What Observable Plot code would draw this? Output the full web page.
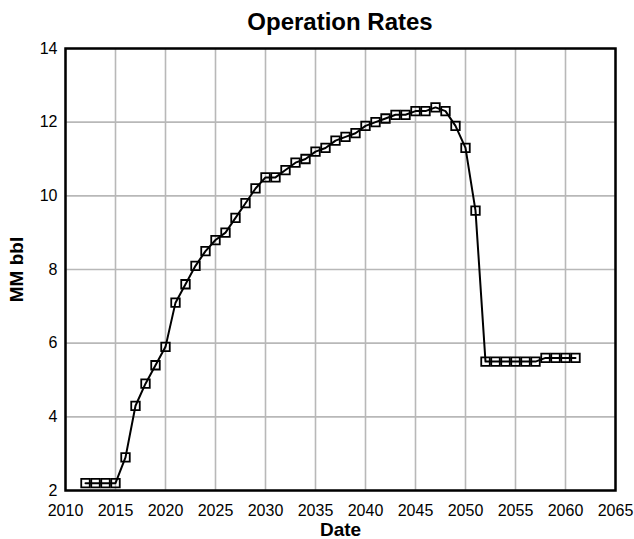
<!DOCTYPE html>
<html>
<head>
<meta charset="utf-8">
<script src="https://cdn.jsdelivr.net/npm/d3@7"></script>
<script src="https://cdn.jsdelivr.net/npm/@observablehq/plot@0.6"></script>
<style>
  body { margin: 0; background: #fff; }
  #wrap { position: relative; width: 634px; height: 539px; }
  #title { position: absolute; left: 65px; width: 550px; top: 8px; text-align: center;
           font: bold 24px "Liberation Sans", Arial, sans-serif; color: #000; }
  g[aria-label="x-axis label"] text, g[aria-label="y-axis label"] text {
    font-weight: bold; font-size: 19px; }
</style>
</head>
<body>
<div id="wrap">
  <div id="title">Operation Rates</div>
</div>
<script>
const years = [2012,2013,2014,2015,2016,2017,2018,2019,2020,2021,2022,2023,2024,2025,2026,2027,2028,2029,2030,2031,2032,2033,2034,2035,2036,2037,2038,2039,2040,2041,2042,2043,2044,2045,2046,2047,2048,2049,2050,2051,2052,2053,2054,2055,2056,2057,2058,2059,2060,2061];
const rates = [2.2,2.2,2.2,2.2,2.9,4.3,4.9,5.4,5.9,7.1,7.6,8.1,8.5,8.8,9.0,9.4,9.8,10.2,10.5,10.5,10.7,10.9,11.0,11.2,11.3,11.5,11.6,11.7,11.9,12.0,12.1,12.2,12.2,12.3,12.3,12.4,12.3,11.9,11.3,9.6,5.5,5.5,5.5,5.5,5.5,5.5,5.6,5.6,5.6,5.6];
const xTicks = [2010,2015,2020,2025,2030,2035,2040,2045,2050,2055,2060,2065];
const yTicks = [2,4,6,8,10,12,14];

const data = years.map((y, i) => ({year: y, value: rates[i]}));

const chart = Plot.plot({
  width: 634,
  height: 539,
  marginTop: 48,
  marginBottom: 49,
  marginLeft: 65,
  marginRight: 19,
  style: {fontFamily: "'Liberation Sans', Arial, sans-serif", fontSize: "16px", color: "#000", background: "#fff"},
  x: {domain: [2010, 2065]},
  y: {domain: [2, 14]},
  marks: [
    Plot.gridX(xTicks, {stroke: "#b8b8b8", strokeWidth: 1.6, strokeOpacity: 1}),
    Plot.gridY(yTicks, {stroke: "#b8b8b8", strokeWidth: 1.6, strokeOpacity: 1}),
    Plot.axisX(xTicks, {tickSize: 0, tickPadding: 14, fontSize: 16, tickFormat: d => String(d), label: "Date", labelAnchor: "center", labelArrow: "none", labelOffset: 45}),
    Plot.axisY(yTicks, {tickSize: 0, tickPadding: 8, fontSize: 16, label: "MM bbl", labelAnchor: "center", labelArrow: "none", labelOffset: 56}),
    Plot.line(data, {x: "year", y: "value", stroke: "#000", strokeWidth: 2}),
    Plot.dot(data, {x: "year", y: "value", symbol: "square", r: 4.8, stroke: "#000", strokeWidth: 1.8, fill: "none"}),
    Plot.frame({stroke: "#000", strokeWidth: 2.5})
  ]
});
document.getElementById("wrap").prepend(chart);
</script>
</body>
</html>
